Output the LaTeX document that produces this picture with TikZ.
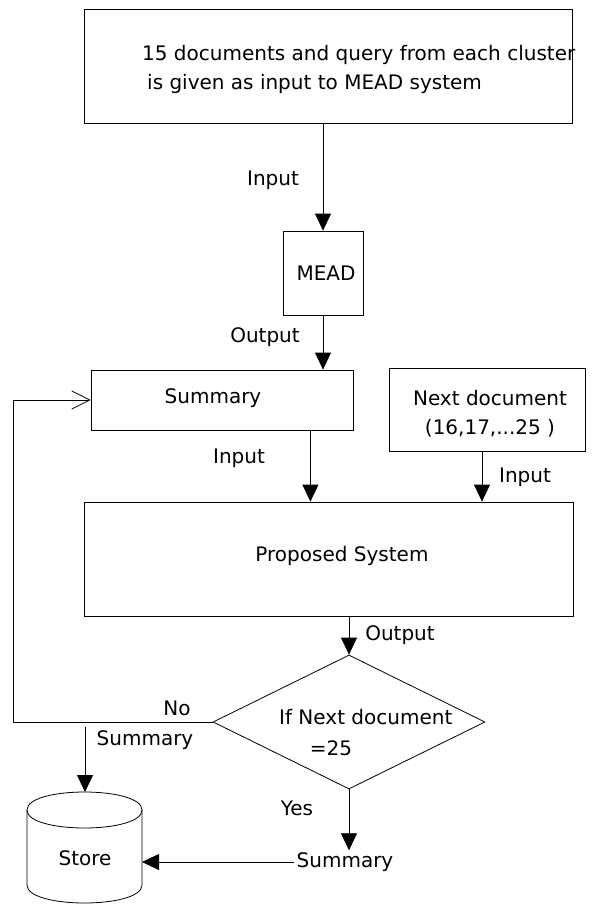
\documentclass[tikz,border=0pt]{standalone}
\usepackage{fontspec}
\setmainfont{DejaVu Sans}
\usetikzlibrary{arrows.meta,shapes.geometric,calc}
\begin{document}
\begin{tikzpicture}[x=1pt,y=-1pt]
\tikzset{
 boxn/.style={draw=black, line width=0.8pt, rectangle, inner sep=0pt},
 lbl/.style={inner sep=0pt, font=\fontsize{20}{24}\selectfont},
 arr/.style={draw=black, line width=0.8pt, -{Triangle[width=16pt,length=17pt]}},
 openarr/.style={draw=black, line width=0.8pt, -{Straight Barb[width=18pt,length=18pt]}},
 ln/.style={draw=black, line width=0.8pt}
}
\useasboundingbox (0,0) rectangle (601,904);
\fill[white] (0,0) rectangle (601,904);

% top box
\node[boxn, minimum width=488pt, minimum height=114pt] (top) at (328,66) {};
\node[lbl, anchor=west] (t1) at (142,55) {15 documents and query from each cluster};
\node[lbl, anchor=west] (t2) at (147,84) {is given as input to MEAD system};

% MEAD
\node[boxn, minimum width=80pt, minimum height=84pt] (mead) at (323,273) {};
\node[lbl] (meadt) at (326,273) {MEAD};
\draw[arr] (top.south -| mead.north) -- (mead.north);
\node[lbl] (in1) at (273,180) {Input};

% Summary
\node[boxn, minimum width=262pt, minimum height=60pt] (summ) at (222,400) {};
\node[lbl] (summt) at (213,398) {Summary};
\draw[arr] (mead.south) -- (mead.south |- summ.north);
\node[lbl] (out1) at (265,337) {Output};

% Next document
\node[boxn, minimum width=196pt, minimum height=83pt] (nd) at (487,409.5) {};
\node[lbl] (nd1) at (490,398) {Next document};
\node[lbl] (nd2) at (490,428) {(16,17,...25 )};

% Proposed system
\node[boxn, minimum width=489pt, minimum height=114pt] (prop) at (328.5,559) {};
\node[lbl] (propt) at (342,556) {Proposed System};
\draw[arr] ([xshift=-43pt]summ.south east) -- ([xshift=-43pt]summ.south east |- prop.north);
\node[lbl] (in2) at (239,458) {Input};
\draw[arr] ([xshift=-5pt]nd.south) -- ([xshift=-5pt]nd.south |- prop.north);
\node[lbl] (in3) at (525,477) {Input};

% Decision
\node[draw=black, line width=0.8pt, shape=diamond, minimum width=272pt, minimum height=134pt, inner sep=0pt] (dia) at (349,722) {};
\node[lbl, anchor=west] (d1) at (279,717) {If Next document};
\node[lbl] (d2) at (331,748) {=25};
\draw[arr] (dia.north |- prop.south) -- (dia.north);
\node[lbl] (out2) at (400,635) {Output};

% No loop
\coordinate (lx) at (13,722);
\draw[openarr] (dia.west) -- (lx) |- (summ.west);
\node[lbl] (no) at (177,708) {No};
\node[lbl] (s2) at (145,740) {Summary};

% Store
\coordinate (sa) at (85,727);
\coordinate (storetop) at (85,792);
\coordinate (storeR) at (142,862);
\draw[ln] (27,810) .. controls (27,786) and (142,786) .. (142,810);
\draw[ln] (27,810) .. controls (27,834) and (142,834) .. (142,810);
\draw[ln] (27,810) -- (27,885) .. controls (27,909) and (142,909) .. (142,885) -- (142,810);
\node[lbl] (store) at (85,858) {Store};
\draw[arr] (sa) -- (storetop);

% Yes branch
\node[lbl, inner sep=2pt] (s3) at (345,862) {Summary};
\node[lbl] (yes) at (297,808) {Yes};
\draw[arr] (dia.south) -- (dia.south |- s3.north);
\draw[arr] (s3.west) -- (storeR);
\end{tikzpicture}
\end{document}
